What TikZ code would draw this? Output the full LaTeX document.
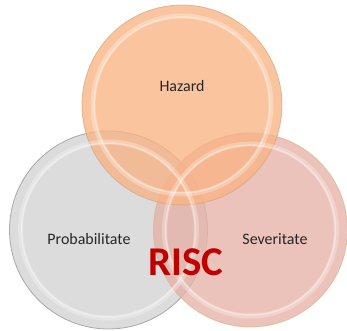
\documentclass[tikz,border=0pt]{standalone}
\usepackage{fontspec}
\setmainfont{Carlito}
\begin{document}
\begin{tikzpicture}[x=1bp, y=-1bp, line join=round, line cap=round,
		bubble/.style={fill opacity=0.78, draw opacity=0.7, line width=0.8bp},
		rim/.style={draw=white, line width=5bp, draw opacity=0.28},
		label/.style={font=\fontsize{16}{19}\selectfont, text=black!85}]
			\def\R{99}
			\useasboundingbox (0,0) rectangle (347,331);
			
			%
			\coordinate (P) at (108.5, 230);
			\coordinate (S) at (250.5, 230);
			\coordinate (H) at (182, 105);
			
			\definecolor{greyfill}{HTML}{D2D2D2}
			\definecolor{pinkfill}{HTML}{E6B2A6}
			\definecolor{peachfill}{HTML}{F9B384}
			
			\fill[greyfill, bubble, draw=black!45] (P) circle (\R);
			\fill[pinkfill, bubble, draw=brown!60] (S) circle (97);
			\fill[peachfill, bubble, draw=brown!70] (H) circle (100);
			
			\foreach \p/\r in {P/\R, S/97, H/100} {
				\draw[rim] (\p) circle ({\r-11});
				\draw[rim, line width=1.5bp, draw opacity=0.35] (\p) circle ({\r-12});
			}
			
			\node[label] (hazard) at (182, 86) {Hazard};
			\node[label] (prob) at (89, 239) {Probabilitate};
			\node[label] (sev) at (275, 239) {Severitate};
			\node[font=\fontsize{41}{45}\selectfont\bfseries, text={rgb,255:red,192;green,0;blue,0}] (risc) at (186, 262) {RISC};
	\end{tikzpicture}
\end{document}
